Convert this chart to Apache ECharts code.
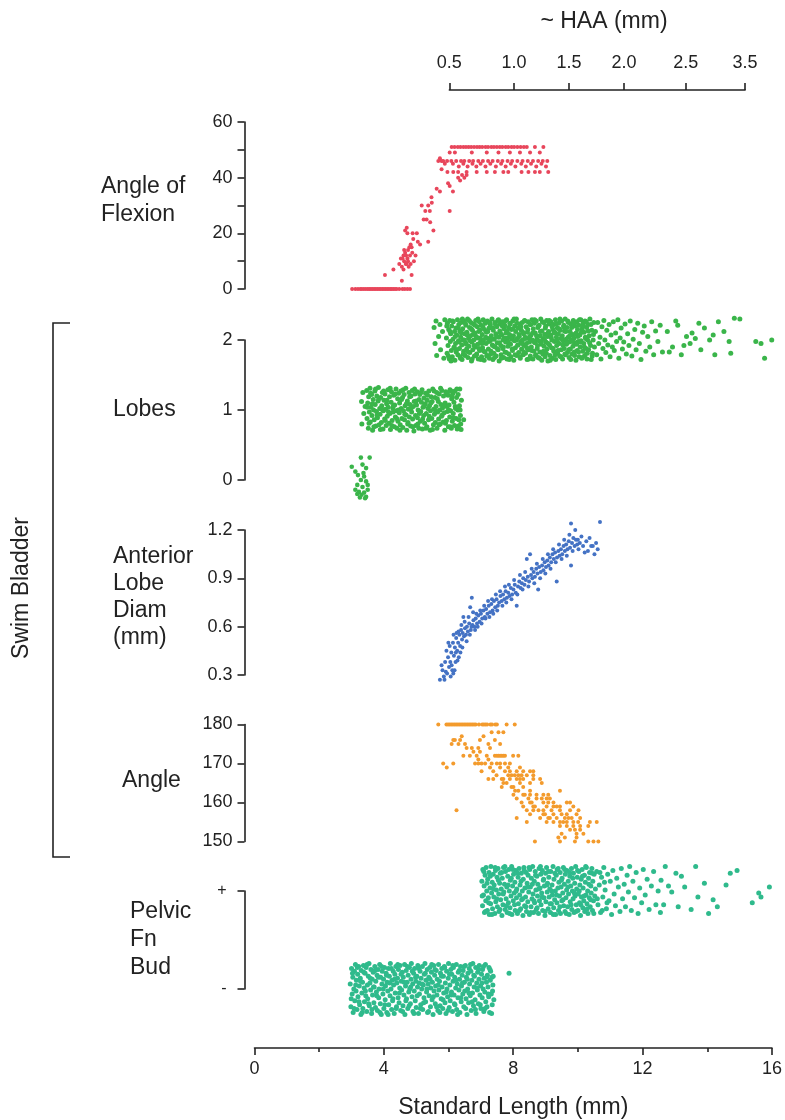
<!DOCTYPE html>
<html><head><meta charset="utf-8">
<script src="https://cdn.jsdelivr.net/npm/echarts@6/dist/echarts.min.js"></script>
<style>html,body{margin:0;padding:0;background:#fff}#c{width:785px;height:1120px}</style>
</head><body><div id="c"></div>
<script>
// ---------- DATA (Standard Length mm, value) ----------
const flexion = [
[3.0,0],[3.1,0],[3.18,0],[3.25,0],[3.3,0],[3.36,0],[3.42,0],[3.48,0],[3.53,0],[3.58,0],[3.63,0],[3.68,0],[3.73,0],[3.78,0],[3.83,0],[3.88,0],[3.93,0],[3.98,0],[4.03,0],[4.08,0],[4.13,0],[4.18,0],[4.22,0],[4.27,0],[4.32,0],[4.37,0],[4.45,0],[4.55,0],[4.62,0],[4.7,0],[4.78,0],
[4.01,5],[4.27,7],[4.53,3],[4.83,5],[4.45,9],[4.53,8],[4.5,11],[4.58,12],[4.6,10],[4.63,13],[4.65,9],[4.68,9],[4.7,11],[4.72,14],[4.74,8],[4.78,12],[4.76,15],[4.63,21],[4.68,22],[4.7,20],[4.8,16],[4.83,15],[4.85,13],[4.88,18],[4.9,10],[4.95,12],[4.99,20],[5.02,17],[5.09,16],[5.34,17],[5.14,30],[5.2,25],[5.29,25],[5.34,30],[5.4,24],[5.39,28],[5.44,33],[5.5,21],[5.6,36],[5.7,35],[5.75,43],[5.7,47],[5.75,46],[5.95,38],[6.0,37],[6.1,35],[6.0,28],
[4.58,7],[4.66,12],[4.72,10],[4.6,14],[4.55,11],[4.8,9],[4.86,20],[5.25,28],[5.45,31],
[6.06,51],[6.15,51],[6.25,51],[6.33,51],[6.42,51],[6.5,51],[6.58,51],[6.66,51],[6.75,51],[6.84,51],[6.92,51],[7.0,51],[7.1,51],[7.18,51],[7.28,51],[7.36,51],[7.45,51],[7.54,51],[7.62,51],[7.72,51],[7.8,51],[7.9,51],[7.98,51],[8.08,51],[8.18,51],[8.28,51],[8.37,51],[8.62,51],[8.88,51],
[6.0,49],[6.16,49],[6.68,49],[7.14,49],[7.5,49],[7.85,49],[8.16,49],[8.47,49],[8.77,49],
[5.65,46],[5.8,46],[5.92,46],[6.05,46],[6.2,46],[6.35,46],[6.45,46],[6.6,46],[6.72,46],[6.88,46],[7.02,46],[7.18,46],[7.32,46],[7.48,46],[7.62,46],[7.78,46],[7.92,46],[8.08,46],[8.24,46],[8.4,46],[8.56,46],[8.72,46],[8.86,46],[9.0,46],
[5.85,45],[6.1,45],[6.28,44],[6.42,45],[6.55,44],[6.7,45],[6.82,44],[6.95,45],[7.1,44],[7.25,45],[7.42,44],[7.58,45],[7.72,44],[7.88,45],[8.02,44],[8.2,45],[8.34,44],[8.5,45],[8.66,44],[8.82,45],[8.96,44],
[5.93,42],[6.11,42],[6.26,42],[6.52,42],[6.83,42],[7.14,42],[7.39,42],[7.65,42],[7.8,42],[8.21,42],[8.42,42],[8.62,42],[8.77,42],[9.03,42],
[6.26,40],[6.32,39],[6.38,41],[6.45,40],[6.52,41]
];
const lobes0 = [
[2.99,0.19],[3.1,0.12],[3.32,0.22],[3.43,0.17],[3.18,0.07],[3.37,0.05],[3.27,0.0],[3.43,-0.02],[3.16,-0.07],[3.32,-0.1],[3.48,-0.07],[3.1,-0.14],[3.21,-0.17],[3.37,-0.18],[3.29,-0.21],[3.43,-0.24],[3.16,-0.2],[3.48,-0.14],[3.35,0.1],[3.27,0.32],[3.54,0.32],[3.4,-0.26],[3.24,-0.25]
];
const lobes1 = [
[3.29,1.12],[3.3,0.8],[3.33,1.25],[3.36,0.95],[3.4,1.05],
[3.45,1.28],[3.46,0.88],[3.48,1.1],[3.5,0.74],[3.51,1.19],[3.53,0.97],[3.55,1.31],[3.56,0.83],[3.58,1.04],[3.6,1.22],
[3.61,0.92],[3.63,0.71],[3.65,1.15],[3.66,1.0],[3.68,0.86],[3.7,1.27],[3.71,1.08],[3.73,0.77],[3.75,0.98],[3.76,1.2],
[3.78,0.89],[3.8,1.13],[3.81,1.32],[3.83,0.79],[3.85,1.02],[3.86,0.94],[3.88,1.18],[3.9,0.82],[3.91,1.06],[3.93,1.25],
[3.95,0.73],[3.96,0.99],[3.98,1.14],[4.0,0.87],[4.01,1.23],[4.03,1.01],[4.05,0.78],[4.06,1.09],[4.08,0.91],[4.1,1.29],
[4.11,1.04],[4.13,0.81],[4.15,1.19],[4.16,0.95],[4.18,0.72],[4.2,1.11],[4.21,1.26],[4.23,0.85],[4.25,1.03],[4.26,0.97],
[4.28,1.21],[4.3,0.76],[4.31,1.07],[4.33,0.9],[4.35,1.3],[4.36,0.99],[4.38,0.74],[4.4,1.16],[4.41,0.84],[4.43,1.24],
[4.45,0.96],[4.46,1.1],[4.48,0.79],[4.5,1.27],[4.51,1.02],[4.53,0.88],[4.55,1.18],[4.56,0.75],[4.58,0.99],[4.6,1.22],
[4.61,0.86],[4.63,1.06],[4.65,1.31],[4.66,0.93],[4.68,0.71],[4.7,1.13],[4.71,0.8],[4.73,1.01],[4.75,1.25],[4.76,0.9],
[4.78,1.08],[4.8,0.77],[4.81,1.2],[4.83,0.97],[4.85,1.28],[4.86,0.87],[4.88,1.05],[4.9,0.7],[4.91,1.12],[4.93,1.23],
[4.95,0.92],[4.96,0.78],[4.98,1.07],[5.0,1.26],[5.01,0.89],[5.03,1.0],[5.05,0.74],[5.06,1.15],[5.08,1.22],[5.1,0.84],
[5.11,0.98],[5.13,1.11],[5.15,1.29],[5.16,0.73],[5.18,1.04],[5.2,0.92],[5.21,1.17],[5.23,0.81],[5.25,1.09],[5.26,1.24],
[5.28,0.95],[5.3,0.76],[5.31,1.14],[5.33,1.02],[5.35,0.86],[5.36,1.27],[5.38,1.06],[5.4,0.71],[5.41,0.99],[5.43,1.19],
[5.45,0.88],[5.46,1.12],[5.48,1.3],[5.5,0.79],[5.51,1.01],[5.53,0.94],[5.55,1.18],[5.56,0.82],[5.58,1.05],[5.6,1.25],
[5.61,0.74],[5.63,0.97],[5.65,1.12],[5.66,0.87],[5.68,1.23],[5.7,1.0],[5.71,0.8],[5.73,1.08],[5.75,0.91],[5.76,1.28],
[5.78,1.03],[5.8,0.83],[5.81,1.2],[5.83,0.96],[5.85,0.71],[5.86,1.1],[5.88,1.26],[5.9,0.85],[5.91,1.05],[5.93,0.98],
[5.95,1.21],[5.96,0.76],[5.98,1.07],[6.0,0.9],[6.01,1.29],[6.03,0.99],[6.05,0.74],[6.06,1.16],[6.08,0.84],[6.1,1.24],
[6.11,0.95],[6.13,1.11],[6.15,0.78],[6.16,1.27],[6.18,1.02],[6.2,0.88],[6.21,1.18],[6.23,0.73],[6.25,1.0],[6.26,1.22],
[6.28,0.86],[6.3,1.06],[6.31,1.3],[6.33,0.92],[6.35,0.72],[6.36,1.14],[6.43,0.86],
[3.47,1.04],[3.52,0.81],[3.57,1.24],[3.62,1.09],[3.67,0.76],[3.72,1.3],[3.77,0.93],[3.82,1.16],[3.87,0.72],[3.92,1.01],
[3.97,1.27],[4.02,0.85],[4.07,1.14],[4.12,0.97],[4.17,1.31],[4.22,0.78],[4.27,1.06],[4.32,1.23],[4.37,0.88],[4.42,1.0],
[4.47,0.71],[4.52,1.15],[4.57,1.29],[4.62,0.94],[4.67,1.09],[4.72,0.82],[4.77,1.19],[4.82,1.03],[4.87,0.76],[4.92,1.3],
[4.97,1.13],[5.02,0.8],[5.07,0.95],[5.12,1.25],[5.17,0.87],[5.22,1.06],[5.27,0.74],[5.32,1.21],[5.37,0.91],[5.42,1.1],
[5.47,0.72],[5.52,1.27],[5.57,0.99],[5.62,1.16],[5.67,0.79],[5.72,1.31],[5.77,0.93],[5.82,1.07],[5.87,0.81],[5.92,1.24],
[5.97,1.0],[6.02,0.76],[6.07,1.2],[6.12,0.89],[6.17,1.05],[6.22,1.3],[6.27,0.77],[6.32,1.0],[6.34,0.8],[6.04,1.27]
];
const lobes2 = [
[5.52,2.18],[5.55,1.95],[5.58,2.27],[5.6,1.78],[5.66,2.05],[5.7,2.22],[5.72,1.86],[5.78,2.12],[5.82,1.74],[5.85,2.29],
[5.9,2.03],[5.92,1.81],[5.93,2.24],[5.95,1.92],[5.97,2.15],[5.99,1.73],[6.0,2.28],[6.02,1.98],[6.03,2.09],[6.05,1.85],
[6.06,2.2],[6.08,1.76],[6.1,2.01],[6.11,2.26],[6.13,1.89],[6.15,2.12],[6.16,1.71],[6.18,1.95],[6.19,2.17],[6.2,1.83],
[6.22,2.07],[6.24,2.29],[6.25,1.79],[6.27,1.99],[6.28,2.22],[6.3,1.88],[6.31,2.13],[6.33,1.74],[6.34,2.04],[6.35,2.25],
[6.37,1.93],[6.38,1.72],[6.4,2.16],[6.41,2.0],[6.43,1.84],[6.44,2.27],[6.46,2.09],[6.47,1.78],[6.49,1.96],[6.5,2.21],
[6.52,1.87],[6.53,2.11],[6.55,2.3],[6.56,1.75],[6.58,2.02],[6.59,1.91],[6.61,2.18],[6.62,1.82],[6.64,2.06],[6.65,2.25],
[6.67,1.7],[6.68,1.97],[6.7,2.14],[6.71,1.86],[6.73,2.23],[6.74,2.0],[6.76,1.77],[6.77,2.1],[6.79,1.9],[6.8,2.28],
[6.82,2.05],[6.83,1.8],[6.85,2.19],[6.86,1.94],[6.88,1.73],[6.89,2.12],[6.91,2.26],[6.92,1.85],[6.94,2.03],[6.95,1.98],
[6.97,2.21],[6.98,1.76],[7.0,2.08],[7.01,1.89],[7.03,2.29],[7.04,2.0],[7.06,1.71],[7.07,2.15],[7.09,1.83],[7.1,2.24],
[7.12,1.95],[7.13,2.11],[7.15,1.78],[7.16,2.27],[7.18,2.02],[7.19,1.87],[7.21,2.17],[7.22,1.74],[7.24,1.99],[7.25,2.22],
[7.27,1.84],[7.28,2.06],[7.3,2.3],[7.31,1.93],[7.33,1.72],[7.34,2.14],[7.36,1.81],[7.37,2.01],[7.39,2.25],[7.4,1.9],
[7.42,2.09],[7.43,1.77],[7.45,2.19],[7.46,1.96],[7.48,2.28],[7.49,1.86],[7.51,2.04],[7.52,1.7],[7.54,2.13],[7.55,2.23],
[7.57,1.92],[7.58,1.79],[7.6,2.07],[7.61,2.26],[7.63,1.88],[7.64,2.0],[7.66,1.75],[7.67,2.16],[7.69,2.21],[7.7,1.83],
[7.72,1.97],[7.73,2.1],[7.75,2.29],[7.76,1.73],[7.78,2.03],[7.79,1.91],[7.81,2.18],[7.82,1.8],[7.84,2.08],[7.85,2.24],
[7.87,1.94],[7.88,1.76],[7.9,2.15],[7.91,2.01],[7.93,1.85],[7.94,2.27],[7.96,2.06],[7.97,1.71],[7.99,1.99],[8.0,2.2],
[8.02,1.89],[8.03,2.12],[8.05,2.3],[8.06,1.78],[8.08,2.02],[8.09,1.93],[8.11,2.17],[8.12,1.82],[8.14,2.05],[8.15,2.23],
[8.17,1.74],[8.18,1.98],[8.2,2.14],[8.21,1.87],[8.23,2.25],[8.24,2.0],[8.26,1.79],[8.27,2.09],[8.29,1.92],[8.3,2.28],
[8.32,2.04],[8.33,1.81],[8.35,2.19],[8.36,1.95],[8.38,1.72],[8.39,2.11],[8.41,2.26],[8.42,1.86],[8.44,2.03],[8.45,1.97],
[8.47,2.22],[8.48,1.77],[8.5,2.07],[8.51,1.9],[8.53,2.29],[8.54,2.0],[8.56,1.73],[8.57,2.16],[8.59,1.84],[8.6,2.24],
[8.62,1.96],[8.63,2.1],[8.65,1.79],[8.66,2.27],[8.68,2.01],[8.69,1.88],[8.71,2.18],[8.72,1.75],[8.74,1.99],[8.75,2.21],
[8.77,1.83],[8.78,2.06],[8.8,2.3],[8.81,1.94],[8.83,1.71],[8.84,2.13],[8.86,1.8],[8.87,2.02],[8.89,2.25],[8.9,1.91],
[8.92,2.08],[8.93,1.76],[8.95,2.2],[8.96,1.97],[8.98,2.28],[8.99,1.87],[9.01,2.05],[9.02,1.7],[9.04,2.12],[9.05,2.23],
[9.07,1.93],[9.08,1.78],[9.1,2.07],[9.11,2.26],[9.13,1.89],[9.14,2.0],[9.16,1.74],[9.17,2.15],[9.19,2.22],[9.2,1.84],
[9.22,1.98],[9.23,2.11],[9.25,2.29],[9.26,1.72],[9.28,2.04],[9.29,1.92],[9.31,2.17],[9.32,1.81],[9.34,2.09],[9.35,2.24],
[9.37,1.95],[9.38,1.77],[9.4,2.14],[9.41,2.02],[9.43,1.86],[9.44,2.27],[9.46,2.06],[9.47,1.73],[9.49,1.99],[9.5,2.19],
[9.52,1.88],[9.53,2.13],[9.55,2.3],[9.56,1.79],[9.58,2.01],[9.59,1.94],[9.61,2.18],[9.62,1.82],[9.64,2.04],[9.65,2.25],
[9.67,1.75],[9.68,1.97],[9.7,2.12],[9.71,1.87],[9.73,2.23],[9.74,2.0],[9.76,1.8],[9.77,2.08],[9.79,1.91],[9.8,2.28],
[9.82,2.03],[9.83,1.83],[9.85,2.2],[9.86,1.96],[9.88,1.71],[9.89,2.1],[9.91,2.26],[9.92,1.85],[9.94,2.05],[9.95,1.98],
[9.97,2.21],[9.98,1.76],[10.0,2.07],[10.01,1.9],[10.03,2.29],[10.04,1.99],[10.06,1.74],[10.07,2.16],[10.09,1.84],[10.1,2.24],
[10.12,1.95],[10.13,2.11],[10.15,1.78],[10.16,2.27],[10.18,2.02],[10.19,1.88],[10.21,2.18],[10.22,1.73],[10.24,2.0],[10.25,2.22],
[10.27,1.86],[10.29,2.06],[10.31,2.3],[10.33,1.92],[10.35,1.72],[10.37,2.14],[10.39,1.81],[10.41,2.0],[10.43,2.25],[10.45,1.9],
[5.91,2.2],[5.96,1.77],[6.01,2.12],[6.04,1.7],[6.09,2.27],[6.14,1.9],[6.17,2.05],[6.21,1.86],[6.26,2.18],[6.29,1.97],
[6.32,1.76],[6.36,2.1],[6.39,2.3],[6.42,1.8],[6.45,2.0],[6.48,2.24],[6.51,1.94],[6.54,2.07],[6.57,1.83],[6.6,2.28],
[6.63,1.99],[6.66,2.16],[6.69,1.73],[6.72,2.08],[6.75,1.92],[6.78,2.21],[6.81,1.78],[6.84,2.03],[6.87,2.3],[6.9,1.88],
[6.93,2.14],[6.96,1.72],[6.99,1.95],[7.02,2.19],[7.05,1.84],[7.08,2.26],[7.11,2.04],[7.14,1.77],[7.17,2.12],[7.2,1.98],
[7.23,2.25],[7.26,1.8],[7.29,2.01],[7.32,2.17],[7.35,1.91],[7.38,1.75],[7.41,2.22],[7.44,2.05],[7.47,1.87],[7.5,2.29],
[7.53,1.96],[7.56,2.1],[7.59,1.74],[7.62,2.2],[7.65,1.9],[7.68,2.03],[7.71,2.27],[7.74,1.82],[7.77,2.13],[7.8,1.97],
[7.83,1.72],[7.86,2.23],[7.89,2.04],[7.92,1.87],[7.95,2.16],[7.98,2.3],[8.01,1.79],[8.04,2.0],[8.07,2.24],[8.1,1.93],
[8.13,2.08],[8.16,1.76],[8.19,2.19],[8.22,1.95],[8.25,2.11],[8.28,1.83],[8.31,2.27],[8.34,2.02],[8.37,1.89],[8.4,2.15],
[8.43,1.73],[8.46,2.05],[8.49,2.22],[8.52,1.85],[8.55,2.1],[8.58,1.98],[8.61,2.29],[8.64,1.78],[8.67,2.06],[8.7,1.92],
[8.73,2.2],[8.76,1.74],[8.79,2.12],[8.82,1.97],[8.85,2.26],[8.88,1.84],[8.91,2.01],[8.94,2.17],[8.97,1.81],[9.0,2.09],
[9.03,1.95],[9.06,2.28],[9.09,1.71],[9.12,2.04],[9.15,2.19],[9.18,1.88],[9.21,2.1],[9.24,1.79],[9.27,2.23],[9.3,1.99],
[9.33,1.85],[9.36,2.16],[9.39,2.3],[9.42,1.76],[9.45,2.03],[9.48,1.93],[9.51,2.21],[9.54,1.8],[9.57,2.12],[9.6,1.96],
[9.63,2.27],[9.66,1.86],[9.69,2.06],[9.72,1.72],[9.75,2.18],[9.78,1.98],[9.81,2.24],[9.84,1.78],[9.87,2.09],[9.9,1.94],
[9.93,2.15],[9.96,1.83],[9.99,2.29],[10.02,1.97],[10.05,2.11],[10.08,1.75],[10.11,2.2],[10.14,1.9],[10.17,2.04],[10.2,2.26],
[10.23,1.81],[10.26,2.13],[10.3,1.96],[10.34,2.22],[10.38,1.77],[10.42,2.08],
[10.48,2.12],[10.52,1.79],[10.55,2.25],[10.58,1.95],[10.62,2.04],[10.65,1.73],[10.68,2.19],[10.71,1.88],[10.74,2.28],[10.77,2.0],
[10.8,1.82],[10.83,2.14],[10.86,1.93],[10.9,2.22],[10.93,1.76],[10.96,2.07],[11.0,1.9],[11.03,2.26],[11.06,1.85],[11.1,2.1],
[11.13,1.98],[11.17,2.29],[11.2,1.74],[11.24,2.03],[11.27,2.17],[11.31,1.87],[11.35,1.97],[11.39,2.23],[11.43,1.8],[11.47,2.09],
[11.51,1.92],[11.55,2.27],[11.6,1.77],[11.64,2.01],[11.69,2.15],[11.73,1.86],[11.78,2.24],[11.83,1.95],[11.88,1.72],[11.93,2.11],
[11.98,2.2],[12.03,1.84],[12.09,2.05],[12.15,1.9],[12.21,2.26],[12.27,1.79],[12.33,2.13],[12.4,1.98],[12.47,2.21],[12.54,1.83],
[12.69,2.12],[12.75,1.83],[12.85,1.9],[12.95,2.27],[13.01,2.21],[13.12,1.79],[13.2,1.92],[13.28,2.05],[13.39,1.95],[13.45,2.1],
[13.55,2.02],[13.66,2.24],[13.72,1.86],[13.83,2.17],[13.99,2.0],[14.1,2.07],[14.15,1.79],[14.26,2.26],[14.43,2.12],[14.59,1.98],
[14.64,1.81],[14.75,2.31],[14.92,2.3],[15.41,1.98],[15.57,1.95],[15.68,1.74],[15.9,2.0]
];
const lobeDiam = [
[5.7,0.27],[5.78,0.33],[5.82,0.29],[5.86,0.38],[5.9,0.45],[5.92,0.31],[5.95,0.41],[5.98,0.35],[6.0,0.48],[6.02,0.38],
[6.05,0.44],[6.08,0.33],[6.1,0.5],[6.11,0.31],[6.13,0.42],[6.16,0.47],[6.18,0.38],[6.2,0.53],[6.21,0.56],[6.23,0.45],
[6.26,0.5],[6.28,0.41],[6.3,0.55],[6.32,0.48],[6.35,0.58],[6.38,0.52],[6.4,0.56],[6.42,0.66],[6.44,0.54],[6.47,0.59],
[6.5,0.55],[6.53,0.6],[6.56,0.57],[6.6,0.62],[6.63,0.72],[6.65,0.58],[6.68,0.78],[6.7,0.61],[6.73,0.64],[6.76,0.6],
[6.8,0.65],[6.84,0.62],[6.88,0.67],[6.92,0.63],[6.96,0.68],[7.0,0.65],[7.04,0.7],[7.08,0.66],[7.12,0.71],[7.16,0.68],
[7.2,0.73],[7.24,0.69],[7.28,0.74],[7.32,0.7],[7.36,0.76],[7.4,0.72],[7.44,0.77],[7.48,0.73],[7.52,0.75],[7.56,0.79],
[7.6,0.76],[7.64,0.8],[7.68,0.77],[7.72,0.82],[7.76,0.78],[7.8,0.81],[7.84,0.79],[7.88,0.84],[7.92,0.8],[7.96,0.83],
[8.0,0.86],[8.03,0.81],[8.06,0.73],[8.1,0.85],[8.14,0.88],[8.18,0.84],[8.22,0.87],[8.26,0.9],[8.3,0.86],[8.34,0.89],
[8.37,1.02],[8.4,0.91],[8.44,0.88],[8.47,1.05],[8.5,0.92],[8.54,0.9],[8.58,0.94],[8.62,0.91],[8.66,0.96],[8.7,0.93],
[8.72,0.83],[8.75,0.97],[8.8,0.94],[8.84,0.98],[8.88,0.95],[8.92,1.0],[8.96,0.97],[9.0,1.01],[9.04,0.98],[9.08,1.03],
[9.12,1.0],[9.16,1.05],[9.2,1.02],[9.24,1.06],[9.29,0.88],[9.3,1.03],[9.34,1.07],[9.38,1.04],[9.42,1.08],[9.46,1.05],
[9.5,1.1],[9.54,1.07],[9.58,1.11],[9.62,1.08],[9.66,1.13],[9.7,1.09],[9.73,1.24],[9.73,0.98],[9.76,1.12],[9.8,1.15],
[9.84,1.1],[9.88,1.14],[9.92,1.11],[9.96,1.08],[10.0,1.12],[10.1,1.1],[10.2,1.13],[10.25,1.07],[10.35,1.1],[10.45,1.05],
[10.5,1.12],[10.62,1.25],
[5.75,0.36],[5.84,0.27],[5.88,0.32],[5.96,0.5],[6.03,0.29],[6.06,0.36],[6.12,0.55],[6.15,0.33],[6.19,0.44],[6.24,0.39],
[6.27,0.57],[6.33,0.44],[6.36,0.61],[6.39,0.47],[6.46,0.63],[6.52,0.51],[6.58,0.66],[6.62,0.55],[6.67,0.6],[6.72,0.69],
[6.78,0.58],[6.82,0.68],[6.86,0.6],[6.94,0.7],[6.98,0.62],[7.06,0.73],[7.1,0.65],[7.18,0.76],[7.22,0.66],[7.3,0.77],
[7.34,0.68],[7.42,0.8],[7.46,0.7],[7.55,0.82],[7.62,0.73],[7.7,0.85],[7.74,0.75],[7.82,0.86],[7.9,0.77],[7.98,0.89],
[8.08,0.8],[8.16,0.92],[8.24,0.83],[8.32,0.94],[8.42,0.85],[8.52,0.96],[8.6,0.87],[8.68,0.99],[8.78,0.9],[8.86,1.02],
[8.94,0.93],[9.02,1.05],[9.1,0.96],[9.18,1.08],[9.26,1.0],[9.36,1.11],[9.44,1.02],[9.52,1.14],[9.6,1.04],[9.68,1.17],
[9.78,1.07],[9.86,1.2],[9.94,1.14],[10.05,1.16],[10.15,1.06],[10.3,1.15],[10.4,1.1],[10.55,1.08]
];
const bladderAngle = [
[5.65,180],[5.9,180],[5.95,180],[6.0,180],[6.05,180],[6.1,180],[6.15,180],[6.2,180],[6.25,180],[6.3,180],[6.35,180],[6.4,180],[6.45,180],[6.5,180],[6.55,180],[6.6,180],[6.65,180],[6.7,180],[6.75,180],[6.8,180],[6.9,180],[7.0,180],[7.05,180],[7.1,180],[7.15,180],[7.25,180],[7.3,180],[7.4,180],[7.45,180],[7.75,180],[8.0,180],
[7.29,178],[7.5,178],[7.65,178],[7.04,177],[6.37,177],
[6.11,176],[6.32,176],[6.47,175],[6.93,176],[7.19,175],[7.39,176],[7.55,175],[6.06,175],
[6.68,174],[6.88,174],[6.93,173],[7.24,174],
[6.42,172],[6.62,172],[7.14,172],[7.39,172],[7.45,172],[7.5,172],[7.55,172],[7.6,172],[7.65,172],[7.7,172],[8.11,172],
[6.88,171],[7.19,171],
[5.8,170],[6.11,170],[6.78,170],[6.88,170],[6.98,170],[7.29,170],[7.45,170],[7.55,170],[7.7,170],[7.85,170],
[5.91,169],[7.55,169],[7.8,169],[8.16,169],
[6.98,168],[7.7,168],[7.85,168],[8.06,168],[8.26,168],[8.47,168],[8.57,168],
[7.8,167],[7.9,167],[8.0,167],[8.11,167],[8.21,167],[8.37,167],[8.57,167],
[7.19,166],[7.34,166],[7.65,166],[7.85,166],[8.06,166],[8.26,166],[8.57,166],[8.78,166],
[7.65,165],[8.16,165],[8.47,165],[8.83,165],
[7.6,164],[7.96,164],[8.26,164],
[8.01,163],[8.47,163],[9.39,163],
[7.96,162],[8.26,162],[8.47,162],[8.67,162],[8.88,162],[9.03,162],
[8.06,161],[8.67,161],[8.83,161],[8.98,161],[9.08,161],
[8.21,160],[8.47,160],[8.88,160],[9.03,160],[9.19,160],[9.6,160],[9.7,160],
[8.26,159],[8.57,159],[8.98,159],[9.19,159],[9.39,159],[9.8,159],
[6.21,158],[8.37,158],[8.57,158],[8.88,158],[9.39,158],[9.7,158],[9.96,158],
[8.47,157],[8.88,157],[9.19,157],[9.44,157],[9.6,157],[9.9,157],
[8.06,156],[8.78,156],[9.03,156],[9.29,156],[9.54,156],[9.75,156],[10.01,156],
[8.37,155],[8.98,155],[9.19,155],[9.39,155],[9.6,155],[9.8,155],[10.31,155],[10.52,155],
[9.39,154],[9.6,154],[9.8,154],[10.01,154],[10.26,154],
[9.7,153],[9.85,153],[10.01,153],
[9.44,152],[9.9,152],
[9.34,151],[9.54,151],[9.9,151],
[8.62,150],[9.39,150],[9.85,150],[10.26,150],[10.42,150],[10.57,150],
[6.16,176],[6.27,175],[6.52,174],[6.73,173],[6.83,172],[7.09,170],[7.24,169],[7.34,168],[7.44,167],[7.6,166],
[7.75,165],[7.9,164],[8.11,163],[8.31,162],[8.42,161],[8.52,160],[8.62,159],[8.73,158],[8.93,157],[9.08,156],
[9.13,158],[9.29,159],[9.49,155],[9.65,156],[9.95,155],[10.11,152],[7.95,172],[8.16,166]
];
// pelvic fin bud: 1 = present (+), 0 = absent (-); spread around each level as in the figure
const finBudPlus = [
[7.03,1.1],[7.05,0.85],[7.06,1.22],[7.08,0.96],[7.1,1.05],[7.11,0.78],[7.13,1.16],[7.15,0.9],[7.16,1.24],[7.18,1.0],
[7.2,0.8],[7.21,1.12],[7.23,0.93],[7.25,1.19],[7.26,0.76],[7.28,1.03],[7.3,0.87],[7.31,1.25],[7.33,0.98],[7.35,1.09],
[7.36,0.82],[7.38,1.17],[7.4,0.94],[7.41,1.06],[7.43,0.77],[7.45,1.21],[7.46,0.89],[7.48,1.01],[7.5,1.14],[7.51,0.84],
[7.53,1.23],[7.55,0.97],[7.56,0.79],[7.58,1.08],[7.6,1.18],[7.61,0.91],[7.63,1.02],[7.65,0.75],[7.66,1.13],[7.68,0.86],
[7.7,1.24],[7.71,0.99],[7.73,1.07],[7.75,0.81],[7.76,1.2],[7.78,0.92],[7.8,1.04],[7.81,0.78],[7.83,1.15],[7.85,0.88],
[7.86,1.22],[7.88,1.0],[7.9,0.83],[7.91,1.11],[7.93,0.95],[7.95,1.25],[7.96,0.76],[7.98,1.05],[8.0,0.9],[8.01,1.17],
[8.03,0.98],[8.05,1.09],[8.06,0.8],[8.08,1.21],[8.1,0.93],[8.11,1.02],[8.13,0.77],[8.15,1.14],[8.16,0.87],[8.18,1.23],
[8.2,0.96],[8.21,1.06],[8.23,0.82],[8.25,1.18],[8.26,0.91],[8.28,1.0],[8.3,0.75],[8.31,1.12],[8.33,1.24],[8.35,0.85],
[8.36,1.03],[8.38,0.94],[8.4,1.19],[8.41,0.79],[8.43,1.08],[8.45,0.89],[8.46,1.16],[8.48,0.99],[8.5,0.76],[8.51,1.22],
[8.53,1.04],[8.55,0.84],[8.56,1.13],[8.58,0.92],[8.6,1.25],[8.61,0.97],[8.63,0.78],[8.65,1.1],[8.66,0.88],[8.68,1.2],
[8.7,1.01],[8.71,0.81],[8.73,1.15],[8.75,0.95],[8.76,1.07],[8.78,0.77],[8.8,1.23],[8.81,0.9],[8.83,1.03],[8.85,1.17],
[8.86,0.86],[8.88,0.98],[8.9,1.21],[8.91,0.8],[8.93,1.11],[8.95,0.93],[8.96,1.05],[8.98,0.75],[9.0,1.18],[9.01,0.89],
[9.03,1.24],[9.05,0.99],[9.06,1.08],[9.08,0.82],[9.1,1.14],[9.11,0.94],[9.13,1.02],[9.15,0.78],[9.16,1.2],[9.18,0.87],
[9.2,1.06],[9.21,0.96],[9.23,1.25],[9.25,0.83],[9.26,1.12],[9.28,0.91],[9.3,1.0],[9.31,0.76],[9.33,1.16],[9.35,0.88],
[9.36,1.22],[9.38,1.03],[9.4,0.8],[9.41,1.09],[9.43,0.95],[9.45,1.19],[9.46,0.77],[9.48,1.04],[9.5,0.9],[9.51,1.13],
[9.53,0.98],[9.55,1.24],[9.56,0.85],[9.58,1.07],[9.6,0.79],[9.61,1.17],[9.63,0.93],[9.65,1.01],[9.66,1.21],[9.68,0.84],
[9.7,1.1],[9.71,0.97],[9.73,0.76],[9.75,1.15],[9.76,0.89],[9.78,1.05],[9.8,1.23],[9.81,0.81],[9.83,1.0],[9.85,0.92],
[9.86,1.18],[9.88,0.78],[9.9,1.08],[9.91,0.95],[9.93,1.25],[9.95,0.86],[9.96,1.02],[9.98,1.14],[10.0,0.8],[10.01,0.97],
[10.03,1.2],[10.05,0.88],[10.06,1.06],[10.08,0.75],[10.1,1.12],[10.11,0.94],[10.13,1.22],[10.15,0.83],[10.16,1.03],[10.18,0.9],
[10.2,1.16],[10.21,0.79],[10.23,1.09],[10.25,0.96],[10.26,1.24],[10.28,0.87],[10.3,1.0],[10.31,0.77],[10.33,1.13],[10.35,0.93],
[10.36,1.19],[10.38,0.84],[10.4,1.05],[10.41,0.98],[10.43,1.23],[10.45,0.8],[10.46,1.1],[10.48,0.9],[10.5,1.17],[10.52,0.95],
[7.04,0.95],[7.09,1.2],[7.14,0.79],[7.19,1.08],[7.24,0.88],[7.29,1.15],[7.34,0.76],[7.39,1.02],[7.44,1.24],[7.49,0.92],
[7.54,1.11],[7.59,0.81],[7.64,1.19],[7.69,0.97],[7.74,1.25],[7.79,0.85],[7.84,1.06],[7.89,0.77],[7.94,1.13],[7.99,1.22],
[8.04,0.86],[8.09,1.0],[8.14,1.18],[8.19,0.8],[8.24,1.1],[8.29,0.92],[8.34,1.21],[8.39,0.84],[8.44,1.04],[8.49,1.24],
[8.54,0.78],[8.59,1.07],[8.64,0.9],[8.69,1.16],[8.74,0.83],[8.79,1.02],[8.84,1.25],[8.89,0.94],[8.94,1.12],[8.99,0.79],
[9.04,1.06],[9.09,1.2],[9.14,0.87],[9.19,1.0],[9.24,0.76],[9.29,1.18],[9.34,0.96],[9.39,1.23],[9.44,0.84],[9.49,1.11],
[9.54,0.91],[9.59,1.22],[9.64,0.77],[9.69,1.04],[9.74,1.19],[9.79,0.86],[9.84,1.13],[9.89,0.98],[9.94,0.79],[9.99,1.21],
[10.04,1.0],[10.09,0.86],[10.14,1.15],[10.19,0.95],[10.24,1.25],[10.29,0.82],[10.34,1.07],[10.39,0.91],[10.44,1.18],[10.49,0.77],
[10.54,1.02],[10.6,0.92],[10.68,1.19],[10.75,0.8],[10.82,1.09],[10.9,0.88],
[10.58,1.2],[10.62,0.86],[10.66,1.06],[10.7,0.78],[10.73,1.14],[10.77,0.94],[10.8,1.24],[10.84,1.01],[10.88,0.82],[10.92,1.17],
[10.96,0.9],[11.0,1.1],[11.04,0.76],[11.08,1.21],[11.12,0.97],[11.16,0.85],[11.2,1.13],[11.25,1.04],[11.3,0.79],[11.34,1.23],
[11.38,0.92],[11.43,1.07],[11.47,0.84],[11.52,1.16],[11.56,0.99],[11.6,1.25],[11.65,0.8],[11.7,1.1],[11.75,0.93],[11.8,1.19],
[11.86,0.77],[11.91,1.03],[11.97,0.88],[12.02,1.22],[12.08,0.96],[12.14,1.12],[12.2,0.81],[12.27,1.05],[12.34,1.2],[12.41,0.86],
[12.48,1.0],[12.55,0.78],[12.57,1.11],[12.65,0.86],[12.7,1.25],[12.8,1.05],[12.9,0.99],[13.03,1.18],[13.1,0.84],[13.2,1.15],
[13.3,1.04],[13.5,0.81],[13.64,1.25],[13.71,0.94],[13.91,1.08],[14.04,0.77],[14.18,0.91],[14.31,0.84],[14.58,1.06],[14.71,1.18],
[14.92,1.21],[15.39,0.88],[15.59,0.98],[15.66,0.94],[15.92,1.04]
];
const finBudMinus = [
[2.96,0.05],[2.98,-0.18],[3.0,0.21],[3.02,-0.05],[3.04,0.12],[3.05,-0.24],[3.07,0.0],[3.09,0.18],[3.1,-0.12],[3.12,0.25],
[3.14,-0.02],[3.15,0.09],[3.17,-0.21],[3.19,0.15],[3.2,-0.08],[3.22,0.23],[3.24,0.03],[3.25,-0.16],[3.27,0.11],[3.29,-0.26],
[3.3,0.19],[3.32,-0.04],[3.34,0.07],[3.35,-0.2],[3.37,0.24],[3.39,0.01],[3.4,-0.13],[3.42,0.16],[3.44,-0.07],[3.45,0.22],
[3.47,-0.23],[3.49,0.04],[3.5,-0.1],[3.52,0.13],[3.54,0.26],[3.55,-0.17],[3.57,0.06],[3.59,-0.01],[3.6,0.2],[3.62,-0.25],
[3.64,0.1],[3.65,-0.06],[3.67,0.17],[3.69,-0.14],[3.7,0.02],[3.72,0.23],[3.74,-0.19],[3.75,0.08],[3.77,-0.03],[3.79,0.14],
[3.8,-0.22],[3.82,0.2],[3.84,-0.09],[3.85,0.0],[3.87,0.25],[3.89,-0.15],[3.9,0.12],[3.92,-0.26],[3.94,0.05],[3.95,0.18],
[3.97,-0.05],[3.99,0.1],[4.0,-0.2],[4.02,0.22],[4.04,-0.11],[4.05,0.03],[4.07,0.16],[4.09,-0.24],[4.1,0.07],[4.12,-0.02],
[4.14,0.21],[4.15,-0.16],[4.17,0.13],[4.19,-0.07],[4.2,0.26],[4.22,0.0],[4.24,-0.21],[4.25,0.09],[4.27,-0.12],[4.29,0.18],
[4.3,0.04],[4.32,-0.25],[4.34,0.15],[4.35,-0.04],[4.37,0.23],[4.39,-0.18],[4.4,0.06],[4.42,0.11],[4.44,-0.09],[4.45,0.2],
[4.47,-0.14],[4.49,0.01],[4.5,0.24],[4.52,-0.22],[4.54,0.08],[4.55,-0.01],[4.57,0.17],[4.59,-0.17],[4.6,0.12],[4.62,-0.06],
[4.64,0.25],[4.65,-0.26],[4.67,0.03],[4.69,0.19],[4.7,-0.1],[4.72,0.07],[4.74,-0.2],[4.75,0.14],[4.77,-0.03],[4.79,0.22],
[4.8,0.0],[4.82,-0.15],[4.84,0.1],[4.85,0.26],[4.87,-0.08],[4.89,0.05],[4.9,-0.23],[4.92,0.16],[4.94,-0.02],[4.95,0.21],
[4.97,-0.12],[4.99,0.08],[5.0,-0.19],[5.02,0.13],[5.04,0.02],[5.05,0.24],[5.07,-0.25],[5.09,0.06],[5.1,-0.05],[5.12,0.18],
[5.14,-0.16],[5.15,0.11],[5.17,0.0],[5.19,0.23],[5.2,-0.21],[5.22,0.04],[5.24,-0.09],[5.25,0.15],[5.27,0.26],[5.29,-0.13],
[5.3,0.09],[5.32,-0.03],[5.34,0.2],[5.35,-0.24],[5.37,0.05],[5.39,0.12],[5.4,-0.07],[5.42,0.22],[5.44,-0.18],[5.45,0.01],
[5.47,0.17],[5.49,-0.11],[5.5,0.07],[5.52,-0.26],[5.54,0.24],[5.55,-0.02],[5.57,0.14],[5.59,-0.15],[5.6,0.03],[5.62,0.19],
[5.64,-0.06],[5.65,0.1],[5.67,-0.22],[5.69,0.25],[5.7,-0.01],[5.72,0.08],[5.74,-0.17],[5.75,0.16],[5.77,-0.1],[5.79,0.21],
[5.8,0.02],[5.82,-0.2],[5.84,0.13],[5.85,-0.04],[5.87,0.23],[5.89,-0.14],[5.9,0.06],[5.92,-0.25],[5.94,0.18],[5.95,0.0],
[5.97,-0.08],[5.99,0.11],[6.0,0.26],[6.02,-0.19],[6.04,0.04],[6.05,-0.12],[6.07,0.2],[6.09,-0.03],[6.1,0.15],[6.12,-0.23],
[6.14,0.08],[6.15,0.22],[6.17,-0.06],[6.19,0.12],[6.2,-0.16],[6.22,0.01],[6.24,0.25],[6.25,-0.21],[6.27,0.05],[6.29,-0.09],
[6.3,0.17],[6.32,-0.01],[6.34,0.1],[6.35,-0.24],[6.37,0.23],[6.39,-0.13],[6.4,0.03],[6.42,0.14],[6.44,-0.05],[6.45,0.19],
[6.47,-0.18],[6.49,0.07],[6.5,-0.02],[6.52,0.24],[6.54,-0.1],[6.55,0.12],[6.57,-0.26],[6.59,0.0],[6.6,0.16],[6.62,-0.14],
[6.64,0.21],[6.65,0.05],[6.67,-0.07],[6.69,0.18],[6.7,-0.22],[6.72,0.09],[6.74,-0.04],[6.75,0.26],[6.77,-0.17],[6.79,0.02],
[6.8,0.13],[6.82,-0.11],[6.84,0.22],[6.85,-0.25],[6.87,0.06],[6.89,-0.01],[6.9,0.17],[6.92,-0.15],[6.94,0.1],[6.95,0.24],
[6.97,-0.06],[6.99,0.03],[7.0,-0.2],[7.02,0.15],[7.04,-0.09],[7.05,0.2],[7.07,0.0],[7.09,-0.23],[7.1,0.11],[7.12,-0.03],
[7.14,0.25],[7.15,-0.13],[7.17,0.07],[7.19,-0.18],[7.2,0.14],[7.22,0.02],[7.24,-0.08],[7.25,0.22],[7.27,-0.24],[7.29,0.09],
[7.3,0.18],[7.32,-0.05],[7.34,0.12],[7.35,-0.16],[7.37,0.04],[7.4,-0.11],[7.87,0.16],
[2.99,-0.1],[3.03,0.16],[3.08,-0.2],[3.13,0.04],[3.18,0.22],[3.23,-0.13],[3.28,0.08],[3.33,-0.24],[3.38,0.17],[3.43,-0.02],
[3.48,0.25],[3.53,-0.15],[3.58,0.11],[3.63,-0.21],[3.68,0.02],[3.73,0.19],[3.78,-0.07],[3.83,0.12],[3.88,-0.24],[3.93,0.23],
[3.98,0.0],[4.03,-0.16],[4.08,0.14],[4.13,-0.26],[4.18,0.06],[4.23,0.21],[4.28,-0.1],[4.33,0.1],[4.38,-0.2],[4.43,0.25],
[4.48,-0.04],[4.53,0.15],[4.58,-0.23],[4.63,0.07],[4.68,-0.12],[4.73,0.23],[4.78,-0.17],[4.83,0.02],[4.88,0.18],[4.93,-0.25],
[4.98,0.12],[5.03,-0.07],[5.08,0.21],[5.13,-0.2],[5.18,0.05],[5.23,-0.14],[5.28,0.16],[5.33,0.0],[5.38,-0.23],[5.43,0.1],
[5.48,0.25],[5.53,-0.08],[5.58,0.2],[5.63,-0.18],[5.68,0.04],[5.73,-0.24],[5.78,0.13],[5.83,-0.11],[5.88,0.22],[5.93,-0.03],
[5.98,-0.22],[6.03,0.15],[6.08,-0.06],[6.13,0.24],[6.18,-0.15],[6.23,0.09],[6.28,-0.26],[6.33,0.19],[6.38,-0.09],[6.43,0.06],
[6.48,0.23],[6.53,-0.2],[6.58,0.1],[6.63,-0.04],[6.68,0.25],[6.73,-0.13],[6.78,0.14],[6.83,-0.21],[6.88,0.01],[6.93,0.2],
[6.98,-0.16],[7.03,0.06],[7.08,0.23],[7.13,-0.2],[7.18,0.12],[7.23,-0.05],[7.28,0.2],[7.33,-0.25],[7.38,0.13],[7.36,-0.02]
];
// top axis: approximate head-anterior-area values at given standard lengths
const haaLabels = ['0.5','1.0','1.5','2.0','2.5','3.5'];
const haaAtSL = [5.99, 7.98, 9.67, 11.36, 13.26, 15.08];
const slMin = 0, slMax = 16, slStep = 4;

// ---------- LAYOUT ----------
const W = 785, X0 = 254.5, X16 = 775;
const ppm = (X16 - X0) / (slMax - slMin);
const FONT = '"Liberation Sans", Arial, Helvetica, sans-serif';
const INK = '#222';
const LINE = { color: INK, width: 1.6 };

const panels = [
  { top: 122, bottom: 289, min: 0, max: 60, interval: 10, fmt: v => (v % 20 === 0 ? String(v) : ''), fs: 18, margin: 12 },
  { top: 340, bottom: 480, min: 0, max: 2, interval: 1, fmt: v => String(v), fs: 18, margin: 12 },
  { top: 530, bottom: 675, min: 0.3, max: 1.2, interval: 0.3, fmt: v => v.toFixed(1), fs: 18, margin: 12 },
  { top: 724.5, bottom: 841.5, min: 150, max: 180, interval: 10, fmt: v => String(v), fs: 18, margin: 12 },
  { top: 891, bottom: 989, min: 0, max: 1, interval: 1, fmt: v => (v >= 0.5 ? '+' : '-'), fs: 16, margin: 18 }
];

const grids = panels.map(p => ({ left: X0, right: W - X16, top: p.top, height: p.bottom - p.top }));
const haaLeft = X0 + (haaAtSL[0] - slMin) * ppm;
const haaRight = X0 + (haaAtSL[haaAtSL.length - 1] - slMin) * ppm;
grids.push({ left: haaLeft, right: W - haaRight, top: 90, height: 1 });

const xAxes = panels.map((p, i) => ({ gridIndex: i, type: 'value', min: slMin, max: slMax, show: false }));
xAxes[4] = {
  gridIndex: 4, type: 'value', min: slMin, max: slMax, interval: slStep, position: 'bottom', offset: 59,
  axisLine: { show: true, onZero: false, lineStyle: LINE },
  axisTick: { show: true, length: 7, lineStyle: LINE },
  minorTick: { show: true, splitNumber: 2, length: 4, lineStyle: LINE },
  axisLabel: { fontSize: 18, color: INK, margin: 12, fontFamily: FONT },
  splitLine: { show: false }, minorSplitLine: { show: false },
  name: 'Standard Length (mm)', nameLocation: 'middle', nameGap: 48,
  nameTextStyle: { fontSize: 23, color: INK, fontFamily: FONT }
};
xAxes.push({
  gridIndex: 5, type: 'value', position: 'top', min: haaAtSL[0], max: haaAtSL[haaAtSL.length - 1],
  axisLine: { show: true, onZero: false, lineStyle: LINE },
  axisTick: { show: true, length: 7, lineStyle: LINE, customValues: haaAtSL },
  axisLabel: {
    show: true, customValues: haaAtSL, fontSize: 18, color: INK, margin: 18, fontFamily: FONT,
    formatter: v => {
      let best = 0;
      haaAtSL.forEach((s, i) => { if (Math.abs(s - v) < Math.abs(haaAtSL[best] - v)) best = i; });
      return haaLabels[best];
    }
  },
  splitLine: { show: false }
});

const yAxes = panels.map((p, i) => ({
  gridIndex: i, type: 'value', min: p.min, max: p.max, interval: p.interval, offset: 10,
  axisLine: { show: true, onZero: false, lineStyle: LINE },
  axisTick: { show: true, length: 7, lineStyle: LINE },
  axisLabel: { formatter: p.fmt, fontSize: p.fs, color: INK, margin: p.margin, fontFamily: FONT },
  splitLine: { show: false }
}));
yAxes.push({ gridIndex: 5, type: 'value', show: false });

function sc(data, idx, color, size) {
  return {
    type: 'scatter', xAxisIndex: idx, yAxisIndex: idx, data: data, symbol: 'circle', symbolSize: size,
    itemStyle: { color: color, opacity: 1 }, clip: false, silent: true, animation: false,
    emphasis: { disabled: true }
  };
}

const series = [
  sc(flexion, 0, '#e8465b', 4),
  sc(lobes0, 1, '#3ab54a', 4.6),
  sc(lobes1, 1, '#3ab54a', 5),
  sc(lobes2, 1, '#3ab54a', 5),
  sc(lobeDiam, 2, '#4472c4', 4),
  sc(bladderAngle, 3, '#f39b2d', 4),
  sc(finBudPlus, 4, '#2fba8c', 5),
  sc(finBudMinus, 4, '#2fba8c', 5)
];

function label(text, x, y, opts) {
  return {
    type: 'text', x: x, y: y, silent: true,
    style: Object.assign({ text: text, fontSize: 23, fontFamily: FONT, fill: INK, align: 'left', verticalAlign: 'middle', lineHeight: 28 }, opts || {})
  };
}

const graphic = [
  label('Angle of\nFlexion', 101, 201),
  label('Lobes', 113, 410),
  label('Anterior\nLobe\nDiam\n(mm)', 113, 597, { lineHeight: 27 }),
  label('Angle', 122, 781),
  label('Pelvic\nFn\nBud', 130, 940),
  label('~ HAA (mm)', 604, 22, { align: 'center' }),
  Object.assign(label('Swim Bladder', 22, 588, { align: 'center' }), { rotation: Math.PI / 2 }),
  { type: 'polyline', silent: true, shape: { points: [[70, 323], [53, 323], [53, 857], [70, 857]] },
    style: { stroke: INK, lineWidth: 1.6, fill: null } }
];

const chart = echarts.init(document.getElementById('c'), null, { renderer: 'canvas' });
chart.setOption({
  animation: false,
  backgroundColor: '#fff',
  grid: grids,
  xAxis: xAxes,
  yAxis: yAxes,
  series: series,
  graphic: graphic
});
</script>
</body></html>
